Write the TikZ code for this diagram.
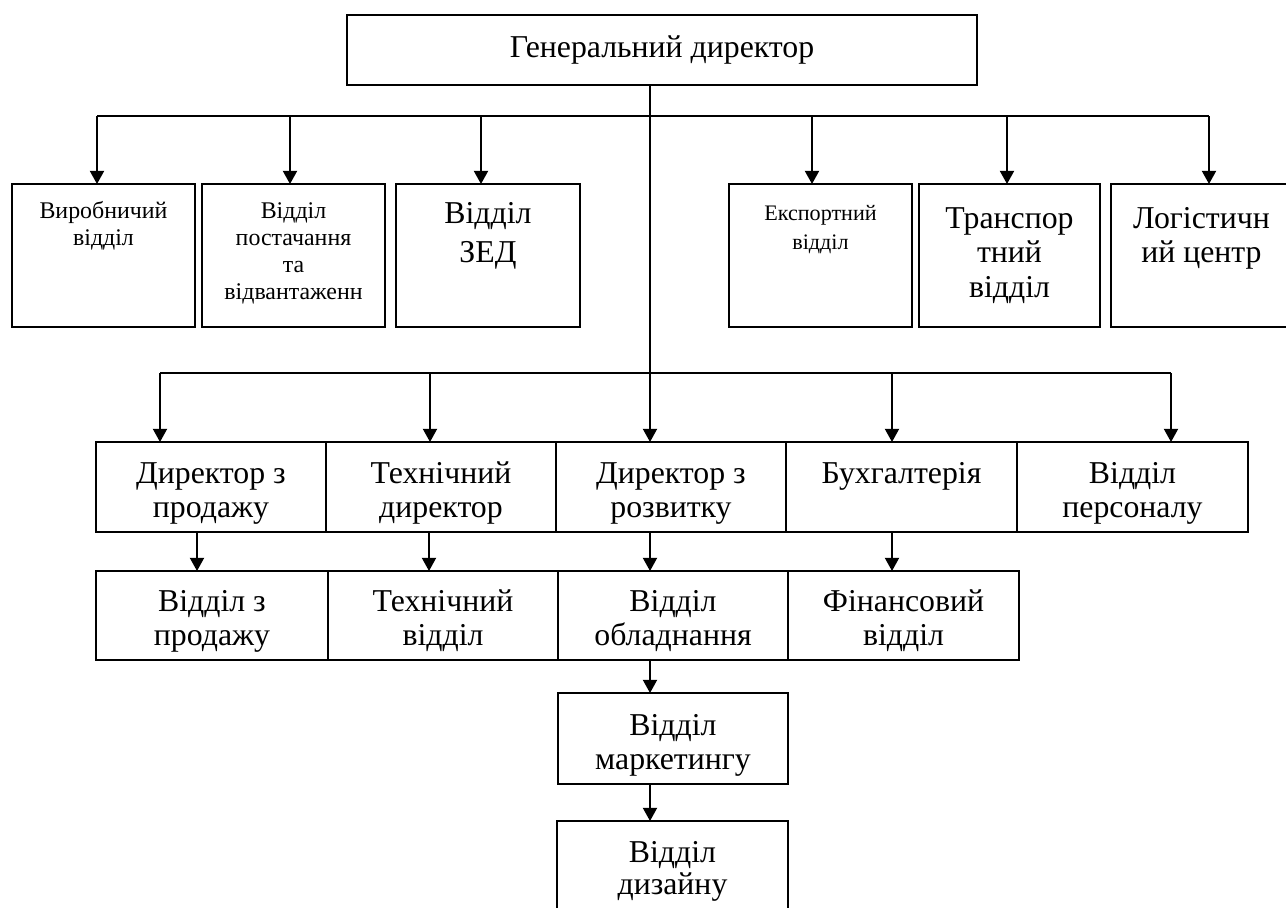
\documentclass[tikz,border=0pt]{standalone}
\usepackage{fontspec}
\setmainfont{Liberation Serif}
\usetikzlibrary{positioning,arrows.meta}

\newcommand{\topgap}[1]{\rule{0pt}{#1}}
\newcommand{\fsbig}{\fontsize{18.1pt}{19.8pt}\selectfont}
\newcommand{\fssmall}{\fontsize{13.6pt}{15.4pt}\selectfont}

\begin{document}
\begin{tikzpicture}[
    x=0.02cm, y=-0.02cm,
    every node/.style={inner sep=0pt,outer sep=0pt},
    box/.style={draw,line width=1pt},
    gbox/.style={box,line width=1.2pt,minimum width=12.6cm,minimum height=1.4cm},
    wbox/.style={box,line width=1.3pt,minimum width=3.66cm,minimum height=2.86cm},
    rbox/.style={box,minimum width=4.6cm,minimum height=1.8cm},
    txt/.style={anchor=north,align=center,font=\fsbig},
    hline/.style={line width=0.6pt},
    arr/.style={-{Triangle[length=7.5pt,width=8pt]},line width=1pt}
  ]
  \useasboundingbox (0,0) rectangle (1286,907);

  % boxes
  \node[gbox] (gen) at (662,50) {};
  \node[wbox] (vyrob)     at (103.5,255.5) {};
  \node[wbox] (postach)   at (293.5,255.5) {};
  \node[wbox,minimum width=3.68cm] (zed) at (488,255.5) {};
  \node[wbox] (eksport)   at (820.5,255.5) {};
  \node[wbox,minimum width=3.62cm] (transport) at (1009.5,255.5) {};
  \node[wbox,minimum width=3.62cm] (logist)    at (1201.5,255.5) {};

  \node[rbox] (prod) at (211,487) {};
  \node[rbox] (tekh) at (441,487) {};
  \node[rbox] (rozv) at (671,487) {};
  \node[rbox,minimum width=4.62cm] (buh)  at (901.5,487) {};
  \node[rbox,minimum width=4.62cm] (pers) at (1132.5,487) {};

  \node[rbox,minimum width=4.64cm,minimum height=1.78cm] (vprod) at (212,615.5) {};
  \node[rbox,minimum height=1.78cm] (vtekh) at (443,615.5) {};
  \node[rbox,minimum height=1.78cm] (vobl)  at (673,615.5) {};
  \node[rbox,minimum width=4.62cm,minimum height=1.78cm] (vfin) at (903.5,615.5) {};

  \node[rbox,minimum height=1.82cm] (mark) at (673,738.5) {};
  \node[rbox,minimum width=4.62cm,minimum height=1.88cm] (dyzain) at (672.5,868) {};

  % texts
  \node[txt] (gen-t) at (gen.north) {\topgap{0.84cm}Генеральний директор};
  \node[txt,font=\fontsize{13.6pt}{15.9pt}\selectfont] (vyrob-t) at (vyrob.north) {\topgap{0.68cm}Виробничий\\відділ};
  \node[txt,font=\fssmall] (postach-t) at (postach.north) {\topgap{0.68cm}Відділ\\постачання\\та\\відвантаженн};
  \node[txt,font=\fontsize{18.1pt}{22.7pt}\selectfont] (zed-t) at (zed.north) {\topgap{0.78cm}Відділ\\ЗЕД};
  \node[txt,font=\fontsize{12.6pt}{17pt}\selectfont] (eksport-t) at (eksport.north) {\topgap{0.72cm}Експортний\\відділ};
  \node[txt] (transport-t) at (transport.north) {\topgap{0.88cm}Транспор\\тний\\відділ};
  \node[txt] (logist-t) at (logist.north) {\topgap{0.88cm}Логістичн\\ий центр};

  \node[txt] (prod-t) at (prod.north) {\topgap{0.82cm}Директор з\\продажу};
  \node[txt] (tekh-t) at (tekh.north) {\topgap{0.82cm}Технічний\\директор};
  \node[txt] (rozv-t) at (rozv.north) {\topgap{0.82cm}Директор з\\розвитку};
  \node[txt] (buh-t)  at (buh.north)  {\topgap{0.82cm}Бухгалтерія};
  \node[txt] (pers-t) at (pers.north) {\topgap{0.82cm}Відділ\\персоналу};

  \node[txt] (vprod-t) at (vprod.north) {\topgap{0.8cm}Відділ з\\продажу};
  \node[txt] (vtekh-t) at (vtekh.north) {\topgap{0.8cm}Технічний\\відділ};
  \node[txt] (vobl-t)  at (vobl.north)  {\topgap{0.8cm}Відділ\\обладнання};
  \node[txt] (vfin-t)  at (vfin.north)  {\topgap{0.8cm}Фінансовий\\відділ};

  \node[txt] (mark-t) at (mark.north) {\topgap{0.84cm}Відділ\\маркетингу};
  \node[txt,font=\fontsize{18.1pt}{18.6pt}\selectfont] (dyzain-t) at (dyzain.north) {\topgap{0.82cm}Відділ\\дизайну};

  % branch points
  \foreach \x/\n in {97/vyrob,290/postach,481/zed,812/eksport,1007/transport,1209/logist}
    \coordinate (\n-in) at (\x,116);
  \foreach \x/\n in {160/prod,430/tekh,892/buh,1171/pers}
    \coordinate (\n-in) at (\x,373);
  \coordinate (trunk) at (650,373);

  % connectors
  \draw[hline] (vyrob-in) -- (logist-in);
  \draw[hline] (prod-in) -- (pers-in);
  \draw[hline] (gen.south -| trunk) -- (trunk);
  \foreach \n in {vyrob,postach,zed,eksport,transport,logist}
    \draw[arr,line width=1.1pt] (\n-in) -- (\n-in |- \n.north);
  \foreach \n in {prod,tekh,buh,pers}
    \draw[arr] (\n-in) -- (\n-in |- \n.north);
  \draw[arr] (trunk) -- (trunk |- rozv.north);

  \draw[arr] ([xshift=-0.28cm]prod.south) -- ([xshift=-0.28cm]prod.south |- vprod.north);
  \draw[arr] ([xshift=-0.24cm]tekh.south) -- ([xshift=-0.24cm]tekh.south |- vtekh.north);
  \draw[arr] ([xshift=-0.42cm]rozv.south) -- ([xshift=-0.42cm]rozv.south |- vobl.north);
  \draw[arr] ([xshift=-0.19cm]buh.south)  -- ([xshift=-0.19cm]buh.south |- vfin.north);
  \draw[arr] ([xshift=-0.46cm]vobl.south) -- ([xshift=-0.46cm]vobl.south |- mark.north);
  \draw[arr] ([xshift=-0.46cm]mark.south) -- ([xshift=-0.46cm]mark.south |- dyzain.north);
\end{tikzpicture}
\end{document}
